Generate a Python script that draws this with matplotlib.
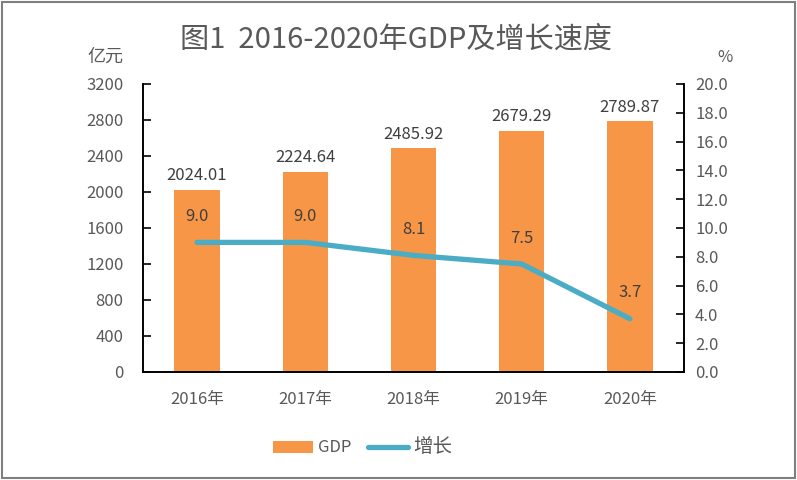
import matplotlib.pyplot as plt
import numpy as np

plt.rcParams['font.family'] = ['Noto Sans CJK SC', 'DejaVu Sans']

years = ["2016年", "2017年", "2018年", "2019年", "2020年"]
gdp = [2024.01, 2224.64, 2485.92, 2679.29, 2789.87]
growth = [9.0, 9.0, 8.1, 7.5, 3.7]

bar_color = "#f79646"
line_color = "#4bacc6"
text_color = "#595959"
label_color = "#404040"

fig = plt.figure(figsize=(7.97, 4.8), dpi=100)
ax = fig.add_axes([143 / 797, 1 - 372 / 480, (684 - 143) / 797, (372 - 84) / 480])
ax2 = ax.twinx()

x = np.arange(len(years))
bars = ax.bar(x, gdp, width=0.42, color=bar_color, label="GDP", zorder=2)
for xi, v in zip(x, gdp):
    ax.text(xi, v + 60, f"{v:.2f}", ha="center", va="bottom",
            fontsize=12, color=label_color)

ax2.plot(x, growth, color=line_color, linewidth=3.8, label="增长",
         solid_capstyle="round", zorder=3)
for xi, v in zip(x, growth):
    ax2.text(xi, v + 1.2, f"{v:.1f}", ha="center", va="bottom",
             fontsize=12, color=label_color)

ax.set_xlim(-0.5, 4.5)
ax.set_ylim(0, 3200)
ax.set_yticks(np.arange(0, 3201, 400))
ax2.set_ylim(0, 20)
ax2.set_yticks(np.arange(0, 20.1, 2))
ax2.set_yticklabels([f"{t:.1f}" for t in np.arange(0, 20.1, 2)])

ax.set_xticks(x)
ax.set_xticklabels(years)

for a in (ax, ax2):
    a.spines["top"].set_visible(False)
    for s in ("left", "right", "bottom"):
        a.spines[s].set_color("black")
        a.spines[s].set_linewidth(1.2)
    a.tick_params(axis="y", direction="in", length=6, width=1.2,
                  labelsize=12, labelcolor=text_color)
ax.tick_params(axis="y", pad=14)
ax2.tick_params(axis="y", pad=8)
ax.tick_params(axis="x", length=0, labelsize=12, labelcolor=text_color, pad=14)

fig.text(0.497, 0.918, "图1  2016-2020年GDP及增长速度", ha="center", va="center",
         fontsize=21, color=text_color)
fig.text(105 / 797, 1 - 57 / 480, "亿元", ha="center", va="center",
         fontsize=13, color=text_color)
fig.text(725 / 797, 1 - 57 / 480, "%", ha="center", va="center",
         fontsize=12, color=text_color)

h1, l1 = ax.get_legend_handles_labels()
h2, l2 = ax2.get_legend_handles_labels()
leg = fig.legend(h1 + h2, l1 + l2, loc="center", bbox_to_anchor=(0.455, 1 - 447 / 480),
                 ncol=2, frameon=False, fontsize=12, labelcolor=text_color,
                 handlelength=2.4, columnspacing=1.0, handletextpad=0.3)
leg.get_texts()[1].set_fontsize(14)

border = plt.Rectangle((0.002, 0.004), 0.996, 0.992, transform=fig.transFigure,
                       fill=False, edgecolor="#7f7f7f", linewidth=1.5)
fig.patches.append(border)

fig.savefig("out.png", dpi=100)
